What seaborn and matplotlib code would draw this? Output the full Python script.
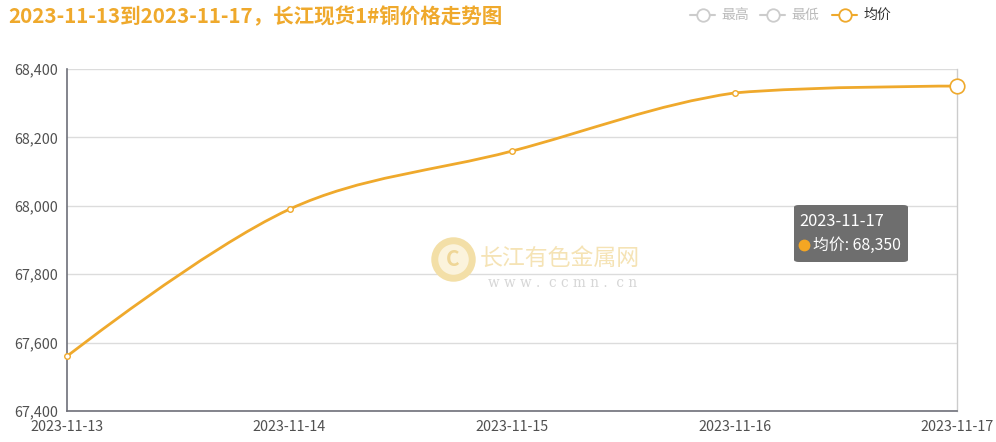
import numpy as np
import pandas as pd
import matplotlib
matplotlib.use("Agg")
import matplotlib.pyplot as plt
from matplotlib.path import Path
from matplotlib.patches import PathPatch, FancyBboxPatch
import seaborn as sns

# datos
fechas = ['2023-11-13', '2023-11-14', '2023-11-15', '2023-11-16', '2023-11-17']
precio_medio = [67560, 67990, 68160, 68330, 68350]
y_ticks = [67400, 67600, 67800, 68000, 68200, 68400]

df = pd.DataFrame({'fecha': fechas, 'x': range(len(fechas)), 'precio': precio_medio})

sns.set_style("white")
plt.rcParams['font.family'] = ['Noto Sans CJK SC', 'DejaVu Sans']

naranja = '#efa92c'
gris_txt = '#505050'

fig = plt.figure(figsize=(9.96, 4.42), dpi=100)
ax = fig.add_axes([67 / 996, 1 - 411 / 442, (957 - 67) / 996, (411 - 69) / 442])

ax.set_xlim(0, len(fechas) - 1)
ax.set_ylim(y_ticks[0], y_ticks[-1])

# curva suavizada (bezier con restriccion, estilo echarts)
W, H = 890.0, 342.0
xs = np.array(df['x'], dtype=float) / (len(fechas) - 1)
ys = (np.array(df['precio'], dtype=float) - y_ticks[0]) / (y_ticks[-1] - y_ticks[0])
pts = np.column_stack([xs * W, ys * H])
pmin, pmax = pts.min(axis=0), pts.max(axis=0)
s = 0.35
cps = []
for i in range(len(pts)):
    if i == 0 or i == len(pts) - 1:
        cps.append((pts[i].copy(), pts[i].copy()))
        continue
    prev, nxt = pts[i - 1], pts[i + 1]
    v = (nxt - prev) * s
    d0 = np.linalg.norm(pts[i] - prev)
    d1 = np.linalg.norm(nxt - pts[i])
    c0 = pts[i] - v * d0 / (d0 + d1)
    c1 = pts[i] + v * d1 / (d0 + d1)
    c0 = np.minimum(np.maximum(c0, pmin), pmax)
    c1 = np.minimum(np.maximum(c1, pmin), pmax)
    cps.append((c0, c1))
verts = [tuple(pts[0])]
codes = [Path.MOVETO]
for i in range(len(pts) - 1):
    verts += [tuple(cps[i][1]), tuple(cps[i + 1][0]), tuple(pts[i + 1])]
    codes += [Path.CURVE4] * 3
verts = [(vx / W, vy / H) for vx, vy in verts]
curva = PathPatch(Path(verts, codes), transform=ax.transAxes, fill=False,
                  edgecolor=naranja, lw=2, zorder=3, clip_on=False)
ax.add_patch(curva)

# puntos
sns.scatterplot(data=df.iloc[:-1], x='x', y='precio', ax=ax, s=16, marker='o',
                facecolor='white', edgecolor=naranja, linewidth=1, zorder=4, clip_on=False)
sns.scatterplot(data=df.iloc[-1:], x='x', y='precio', ax=ax, s=110, marker='o',
                facecolor='white', edgecolor=naranja, linewidth=1.2, zorder=5, clip_on=False)

ax.set_yticks(y_ticks)
ax.set_yticklabels([f'{v:,}' for v in y_ticks])
ax.set_xticks(list(df['x']))
ax.set_xticklabels(fechas)
ax.set_xlabel('')
ax.set_ylabel('')
ax.grid(axis='y', color='#dcdcdc', lw=1)
ax.set_axisbelow(True)
ax.tick_params(axis='both', labelsize=10.3, colors=gris_txt, length=5, width=1,
               direction='out', pad=1.5)
ax.tick_params(axis='both', color='#6e7079')
for lado in ['left', 'bottom']:
    ax.spines[lado].set_color('#6e7079')
    ax.spines[lado].set_linewidth(1.2)
ax.spines['right'].set_color('#cccccc')
ax.spines['right'].set_linewidth(1)
ax.spines['top'].set_visible(False)

# titulo
fig.text(8 / 996, 1 - 17 / 442, '2023-11-13到2023-11-17，长江现货1#铜价格走势图',
         color=naranja, fontsize=14.8, fontweight='bold', va='center', ha='left')

# leyenda
leyenda = [('最高', '#cccccc', '#bbbbbb', 690), ('最低', '#cccccc', '#bbbbbb', 760),
           ('均价', naranja, '#333333', 832)]
for nombre, col, col_txt, x0 in leyenda:
    yl = 1 - 15 / 442
    fig.add_artist(plt.Line2D([x0 / 996, (x0 + 25) / 996], [yl, yl], color=col, lw=1.5))
    fig.add_artist(plt.Line2D([(x0 + 12.5) / 996], [yl], marker='o', markersize=9,
                              markerfacecolor='white', markeredgecolor=col, mew=1.3))
    fig.text((x0 + 31) / 996, yl, nombre, fontsize=10, color=col_txt, va='center', ha='left')

# marca de agua
fig.add_artist(plt.Line2D([453 / 996], [1 - 259 / 442], marker='o', markersize=27,
                          markerfacecolor='#fbf3dc', markeredgecolor='#f3dfa7', mew=5))
fig.text(453 / 996, 1 - 260 / 442, 'C', fontsize=15, fontweight='bold', color='#efd697',
         ha='center', va='center')
fig.text(480 / 996, 1 - 258 / 442, '长江有色金属网', fontsize=16.5, color='#f5e3b5',
         ha='left', va='center')
fig.text(488 / 996, 1 - 283 / 442, 'w w w .  c c m n .  c n', fontsize=9.8,
         color='#d6d6d6', family='DejaVu Serif', ha='left', va='center')

# tooltip
caja = FancyBboxPatch((794 / 996, 1 - 262 / 442), 114 / 996, 57 / 442,
                      boxstyle='round,pad=0,rounding_size=0.005', transform=fig.transFigure,
                      facecolor='#6e6e6e', edgecolor='none', zorder=10)
fig.add_artist(caja)
fig.text(799 / 996, 1 - 222 / 442, '2023-11-17', fontsize=11.8, color='white',
         ha='left', va='center', zorder=11)
fig.add_artist(plt.Line2D([803.5 / 996], [1 - 245 / 442], marker='o', markersize=7.5,
                          color='#f5a623', zorder=11))
fig.text(813 / 996, 1 - 245 / 442, '均价: 68,350', fontsize=11.4, color='white',
         ha='left', va='center', zorder=11)

fig.savefig('out.png', dpi=100)
